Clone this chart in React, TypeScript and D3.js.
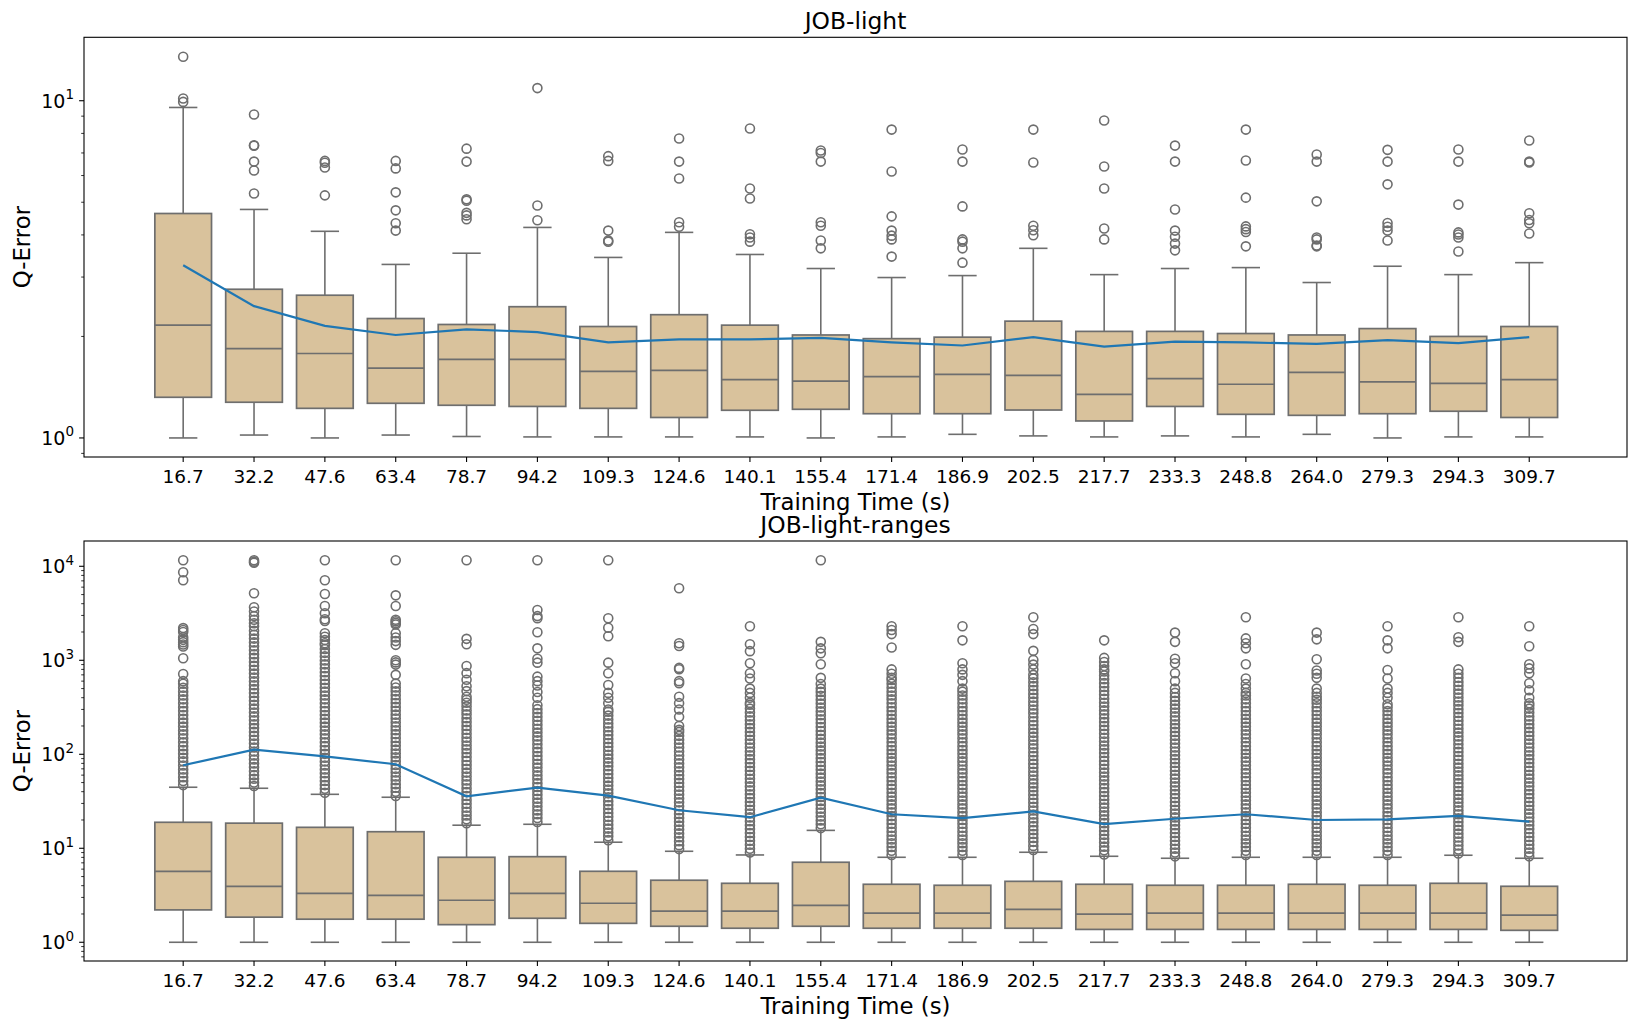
import * as d3 from "d3";

// training-time categories shared by both panels
const categories = [
  "16.7", "32.2", "47.6", "63.4", "78.7", "94.2", "109.3", "124.6", "140.1", "155.4",
  "171.4", "186.9", "202.5", "217.7", "233.3", "248.8", "264.0", "279.3", "294.3", "309.7",
];

// ---- JOB-light ----
const lightLow = [1.0, 1.02, 1.0, 1.02, 1.01, 1.007, 1.007, 1.007, 1.007, 1.0, 1.007, 1.025, 1.014, 1.007, 1.014, 1.007, 1.025, 1.0, 1.007, 1.007];
const lightQ1 = [1.32, 1.276, 1.224, 1.267, 1.25, 1.24, 1.224, 1.15, 1.208, 1.216, 1.18, 1.18, 1.21, 1.123, 1.24, 1.175, 1.167, 1.18, 1.2, 1.15];
const lightMedian = [2.16, 1.84, 1.78, 1.61, 1.71, 1.71, 1.576, 1.586, 1.49, 1.475, 1.52, 1.544, 1.533, 1.347, 1.5, 1.443, 1.565, 1.466, 1.452, 1.49];
const lightQ3 = [4.63, 2.76, 2.65, 2.26, 2.17, 2.45, 2.14, 2.32, 2.16, 2.02, 1.97, 1.99, 2.22, 2.07, 2.07, 2.04, 2.02, 2.11, 2.0, 2.14];
const lightHigh = [9.55, 4.76, 4.1, 3.27, 3.53, 4.21, 3.43, 4.07, 3.5, 3.18, 2.99, 3.03, 3.65, 3.05, 3.18, 3.2, 2.89, 3.23, 3.05, 3.31];
const lightMean = [3.25, 2.46, 2.15, 2.02, 2.1, 2.06, 1.92, 1.96, 1.96, 1.98, 1.92, 1.88, 1.99, 1.865, 1.93, 1.92, 1.9, 1.95, 1.91, 1.99];
const lightOutliers = [
  [9.92, 10.15, 13.5],
  [5.31, 6.21, 6.6, 7.35, 7.38, 9.1],
  [5.24, 6.34, 6.55, 6.63],
  [4.12, 4.33, 4.73, 5.35, 6.3, 6.63],
  [4.45, 4.57, 4.65, 5.05, 5.1, 6.6, 7.21],
  [4.42, 4.89, 10.9],
  [3.82, 3.85, 4.12, 6.63, 6.85],
  [4.23, 4.36, 5.88, 6.6, 7.73],
  [3.82, 3.93, 4.02, 5.13, 5.49, 8.27],
  [3.65, 3.85, 4.26, 4.36, 6.6, 7.0, 7.12],
  [3.45, 3.88, 3.98, 4.12, 4.54, 6.17, 8.21],
  [3.31, 3.65, 3.82, 3.88, 4.86, 6.6, 7.17],
  [3.99, 4.13, 4.26, 6.56, 8.21],
  [3.88, 4.18, 5.49, 6.38, 8.74],
  [3.6, 3.77, 3.95, 4.12, 4.76, 6.6, 7.36],
  [3.7, 4.08, 4.16, 4.24, 5.16, 6.65, 8.21],
  [3.7, 3.72, 3.88, 3.93, 5.03, 6.6, 6.93],
  [3.85, 4.12, 4.23, 4.34, 5.65, 6.6, 7.15],
  [3.57, 3.93, 4.01, 4.07, 4.92, 6.6, 7.17],
  [4.04, 4.33, 4.43, 4.64, 6.56, 6.6, 7.62],
];

// ---- JOB-light-ranges ----
const rangesLow = [1, 1, 1, 1, 1, 1, 1, 1, 1, 1, 1, 1, 1, 1, 1, 1, 1, 1, 1, 1];
const rangesQ1 = [2.21, 1.85, 1.76, 1.76, 1.54, 1.8, 1.59, 1.48, 1.41, 1.48, 1.41, 1.41, 1.41, 1.37, 1.37, 1.37, 1.37, 1.37, 1.37, 1.34];
const rangesMedian = [5.69, 3.94, 3.32, 3.16, 2.8, 3.32, 2.6, 2.14, 2.14, 2.47, 2.04, 2.04, 2.24, 1.99, 2.04, 2.04, 2.04, 2.04, 2.04, 1.94];
const rangesQ3 = [18.9, 18.5, 16.7, 15.0, 8.02, 8.14, 5.69, 4.57, 4.24, 7.1, 4.14, 4.04, 4.45, 4.14, 4.04, 4.04, 4.14, 4.04, 4.24, 3.94];
const rangesHigh = [44.6, 43.5, 37.5, 34.9, 17.6, 18.0, 11.6, 9.29, 8.49, 15.5, 8.02, 8.02, 9.07, 8.22, 7.83, 8.02, 8.02, 8.02, 8.43, 7.83];
const rangesMean = [76.4, 112, 95.2, 78.3, 35.7, 44.2, 36.3, 25.4, 21.4, 34.5, 23.0, 20.9, 24.7, 18.1, 20.6, 23.0, 20.0, 20.3, 22.1, 19.2];
const rangesOutliers = [
  [47, 52, 57, 63, 69, 76, 84, 92, 101, 111, 122, 134, 148, 163, 179, 197, 217, 238, 262, 288, 317, 349, 384, 422, 464, 511, 562, 600,
    715, 1050, 1400, 1470, 1560, 1650, 1760, 2000, 2100, 2200, 7100, 8630, 11600],
  [46, 50, 55, 60, 66, 73, 80, 88, 97, 107, 118, 130, 143, 157, 173, 190, 209, 230, 253, 278, 306, 337, 370, 407, 448, 493, 542, 596,
    656, 722, 794, 873, 960, 1060, 1160, 1280, 1410, 1550, 1700, 1870, 2060, 2300, 2480, 2700, 2950, 3300, 3660, 5160, 10900, 11200, 11600],
  [39, 43, 47, 52, 57, 63, 69, 76, 84, 92, 101, 111, 122, 134, 148, 163, 179, 197, 217, 238, 262, 288, 317, 349, 384, 422, 464, 511,
    562, 618, 680, 748, 823, 905, 996, 1100, 1200, 1320, 1450, 1520, 1640, 1780, 1940, 2620, 2730, 3160, 3780, 5070, 7100, 11600],
  [36, 40, 44, 48, 53, 58, 64, 70, 77, 85, 93, 102, 112, 123, 135, 149, 164, 180, 198, 218, 240, 264, 290, 319, 351, 386, 425, 467, 514, 565,
    700, 900, 950, 1000, 1460, 1600, 1750, 1940, 2400, 2500, 2600, 2700, 3780, 4910, 11600],
  [18.5, 20.3, 22.3, 24.5, 27, 29.7, 32.7, 36, 39.6, 43.5, 48, 52.7, 58, 63.8, 70, 77, 85, 93.5, 103, 113, 124, 137, 150, 165, 182, 200,
    220, 242, 266, 293, 322, 354, 380, 410, 470, 530, 620, 730, 870, 1480, 1690, 11600],
  [19, 21, 23, 25.3, 27.8, 30.6, 33.7, 37, 40.7, 44.8, 49.3, 54.2, 59.6, 65.6, 72.2, 79.4, 87.3, 96, 106, 116, 128, 141, 155, 170, 187,
    206, 227, 250, 275, 302, 332, 400, 460, 540, 600, 670, 944, 1040, 1340, 1990, 2800, 2950, 3430, 11600],
  [12.2, 13.4, 14.7, 16.2, 17.8, 19.6, 21.6, 23.8, 26.2, 28.8, 31.7, 34.9, 38.4, 42.2, 46.4, 51, 56, 61.6, 67.8, 74.6, 82, 90, 99, 109,
    120, 132, 145, 160, 176, 194, 213, 234, 258, 284, 300, 349, 400, 450, 546, 728, 944, 1800, 2220, 2800, 11600],
  [9.8, 10.8, 11.9, 13.1, 14.4, 15.8, 17.4, 19.1, 21, 23.1, 25.4, 28, 30.8, 33.9, 37.3, 41, 45.1, 49.6, 54.6, 60, 66, 72.6, 80, 88, 97,
    107, 118, 130, 143, 157, 173, 182, 200, 250, 300, 350, 410, 569, 600, 802, 830, 1420, 1520, 5830],
  [9, 9.9, 10.9, 12, 13.2, 14.5, 16, 17.6, 19.4, 21.3, 23.4, 25.7, 28.3, 31.1, 34.2, 37.6, 41.4, 45.5, 50, 55, 60.5, 66.6, 73.3, 80.6,
    88.7, 97.6, 107, 118, 130, 143, 157, 173, 190, 209, 230, 253, 278, 306, 337, 352, 400, 450, 500, 640, 728, 929, 1250, 1480, 2300],
  [16.4, 18, 19.8, 21.8, 24, 26.4, 29, 31.9, 35.1, 38.6, 42.5, 46.7, 51.4, 56.5, 62.2, 68.4, 75.2, 82.7, 91, 100, 110, 121, 133, 146,
    161, 177, 195, 215, 236, 260, 286, 315, 346, 381, 419, 461, 500, 560, 650, 906, 1190, 1340, 1570, 11600],
  [8.5, 9.4, 10.3, 11.3, 12.4, 13.6, 15, 16.5, 18.2, 20, 22, 24.2, 26.6, 29.3, 32.2, 35.4, 39, 43, 47, 52, 57, 63, 69, 76, 84, 92, 101,
    111, 122, 134, 148, 163, 179, 197, 217, 238, 262, 288, 317, 349, 384, 422, 464, 511, 562, 618, 650, 720, 800, 1370, 1900, 2100, 2300],
  [8.5, 9.4, 10.3, 11.3, 12.4, 13.6, 15, 16.5, 18.2, 20, 22, 24.2, 26.6, 29.3, 32.2, 35.4, 39, 43, 47, 52, 57, 63, 69, 76, 84, 92, 101,
    111, 122, 134, 148, 163, 179, 197, 217, 238, 262, 288, 317, 349, 384, 422, 464, 500, 600, 700, 800, 929, 1630, 2300],
  [9.6, 10.6, 11.7, 12.9, 14.2, 15.6, 17.2, 18.9, 20.8, 22.9, 25.2, 27.7, 30.5, 33.5, 36.9, 40.6, 44.6, 49, 54, 59.4, 65.3, 71.8, 79,
    87, 95.7, 105, 116, 127, 140, 154, 169, 186, 205, 225, 248, 273, 300, 330, 363, 399, 439, 483, 531, 584, 642, 700,
    800, 900, 1010, 1260, 1900, 2150, 2870],
  [8.6, 9.5, 10.4, 11.5, 12.6, 13.9, 15.3, 16.8, 18.5, 20.3, 22.4, 24.6, 27.1, 29.8, 32.8, 36, 39.6, 43.6, 48, 52.8, 58, 63.8, 70.2,
    77.2, 85, 93.5, 103, 113, 124, 137, 150, 165, 182, 200, 220, 242, 266, 293, 322, 354, 390, 429, 472, 519, 571, 628, 690, 760, 800,
    870, 960, 1060, 1630],
  [8.2, 9, 9.9, 10.9, 12, 13.2, 14.5, 16, 17.6, 19.3, 21.3, 23.4, 25.7, 28.3, 31.1, 34.2, 37.7, 41.4, 45.6, 50.1, 55.1, 60.6, 66.7,
    73.4, 80.7, 88.8, 97.6, 107, 118, 130, 143, 157, 173, 190, 209, 230, 253, 278, 306, 337, 370, 407, 450, 500, 600, 728, 929, 1040, 1570, 1970],
  [8.5, 9.4, 10.3, 11.3, 12.4, 13.6, 15, 16.5, 18.2, 20, 22, 24.2, 26.6, 29.3, 32.2, 35.4, 39, 43, 47, 52, 57, 63, 69, 76, 84, 92, 101,
    111, 122, 134, 148, 163, 179, 197, 217, 238, 262, 288, 317, 349, 384, 422, 450, 500, 560, 640, 906, 1340, 1520, 1710, 2870],
  [8.5, 9.4, 10.3, 11.3, 12.4, 13.6, 15, 16.5, 18.2, 20, 22, 24.2, 26.6, 29.3, 32.2, 35.4, 39, 43, 47, 52, 57, 63, 69, 76, 84, 92, 101,
    111, 122, 134, 148, 163, 179, 197, 217, 238, 262, 288, 317, 349, 380, 410, 450, 500, 650, 720, 780, 1025, 1670, 1970],
  [8.5, 9.4, 10.3, 11.3, 12.4, 13.6, 15, 16.5, 18.2, 20, 22, 24.2, 26.6, 29.3, 32.2, 35.4, 39, 43, 47, 52, 57, 63, 69, 76, 84, 92, 101,
    111, 122, 134, 148, 163, 179, 197, 217, 238, 262, 288, 317, 340, 400, 450, 500, 640, 789, 1340, 1630, 2300],
  [8.8, 9.7, 10.7, 11.8, 13, 14.3, 15.7, 17.3, 19, 20.9, 23, 25.3, 27.8, 30.6, 33.7, 37, 40.7, 44.8, 49.3, 54.2, 59.6, 65.6, 72.2,
    79.4, 87.3, 96, 106, 116, 128, 141, 155, 170, 187, 206, 227, 250, 275, 302, 332, 365, 402, 442, 486, 535, 588, 650, 720, 800, 1570, 1760, 2870],
  [8.2, 9, 9.9, 10.9, 12, 13.2, 14.5, 16, 17.6, 19.3, 21.3, 23.4, 25.7, 28.3, 31.1, 34.2, 37.7, 41.4, 45.6, 50.1, 55.1, 60.6, 66.7,
    73.4, 80.7, 88.8, 97.6, 107, 118, 130, 143, 157, 173, 190, 209, 230, 253, 278, 306, 330, 349, 400, 480, 570, 728, 820, 906, 1410, 2300],
];

const FONT = "DejaVu Sans, Verdana, sans-serif";
const GRAY = "#6e6e6e";
const FILL = "#d9c29c";
const BLUE = "#1f77b4";
const LEFT = 84;
const RIGHT = 1627;

type PanelProps = {
  title: string;
  top: number;
  bottom: number;
  yDomain: [number, number];
  low: number[];
  q1: number[];
  median: number[];
  q3: number[];
  high: number[];
  mean: number[];
  outliers: number[][];
};

function Panel(p: PanelProps) {
  const x = d3.scaleLinear().domain([-1.4, 20.38]).range([LEFT, RIGHT]);
  const y = d3.scaleLog().domain(p.yDomain).range([p.bottom, p.top]);
  const bw = x(0.8) - x(0);
  const cap = bw / 2;
  const isMajor = (v: number) => Math.abs(Math.log10(v) - Math.round(Math.log10(v))) < 1e-6;
  const ticks = y.ticks();
  const major = ticks.filter(isMajor);
  const minor = ticks.filter((v) => !isMajor(v));
  const meanLine = d3
    .line<number>()
    .x((_, i) => x(i))
    .y((v) => y(v))(p.mean) as string;
  const midX = (LEFT + RIGHT) / 2;

  return (
    <g>
      <text x={midX} y={p.top - 8.5} textAnchor="middle" fontSize={23.4} fontFamily={FONT}>
        {p.title}
      </text>

      {categories.map((c, i) => {
        const cx = x(i);
        return (
          <g key={c}>
            <line x1={cx} x2={cx} y1={y(p.low[i])} y2={y(p.q1[i])} stroke={GRAY} strokeWidth={1.6} />
            <line x1={cx} x2={cx} y1={y(p.q3[i])} y2={y(p.high[i])} stroke={GRAY} strokeWidth={1.6} />
            <line x1={cx - cap / 2} x2={cx + cap / 2} y1={y(p.low[i])} y2={y(p.low[i])} stroke={GRAY} strokeWidth={1.6} />
            <line x1={cx - cap / 2} x2={cx + cap / 2} y1={y(p.high[i])} y2={y(p.high[i])} stroke={GRAY} strokeWidth={1.6} />
            <rect
              x={cx - bw / 2}
              y={y(p.q3[i])}
              width={bw}
              height={y(p.q1[i]) - y(p.q3[i])}
              fill={FILL}
              stroke={GRAY}
              strokeWidth={1.7}
            />
            <line x1={cx - bw / 2} x2={cx + bw / 2} y1={y(p.median[i])} y2={y(p.median[i])} stroke={GRAY} strokeWidth={1.7} />
            {p.outliers[i].map((v, k) => (
              <circle key={k} cx={cx} cy={y(v)} r={4.5} fill="none" stroke={GRAY} strokeWidth={1.6} />
            ))}
          </g>
        );
      })}

      <path d={meanLine} fill="none" stroke={BLUE} strokeWidth={2.2} />

      {/* x axis ticks */}
      {categories.map((c, i) => (
        <g key={"xt" + c}>
          <line x1={x(i)} x2={x(i)} y1={p.bottom} y2={p.bottom + 4.9} stroke="#000" strokeWidth={1.1} />
          <text x={x(i)} y={p.bottom + 25.7} textAnchor="middle" fontSize={18.5} fontFamily={FONT}>
            {c}
          </text>
        </g>
      ))}
      <text x={midX} y={p.bottom + 53} textAnchor="middle" fontSize={22.8} fontFamily={FONT}>
        Training Time (s)
      </text>

      {/* y axis ticks */}
      {minor.map((v) => (
        <line key={"mn" + v} x1={LEFT - 2.8} x2={LEFT} y1={y(v)} y2={y(v)} stroke="#000" strokeWidth={0.8} />
      ))}
      {major.map((v) => (
        <g key={"mj" + v}>
          <line x1={LEFT - 4.9} x2={LEFT} y1={y(v)} y2={y(v)} stroke="#000" strokeWidth={1.1} />
          <text x={LEFT - 10} y={y(v) + 6.8} textAnchor="end" fontSize={19} fontFamily={FONT}>
            10
            <tspan fontSize={13.5} dy={-8.5}>
              {String(Math.round(Math.log10(v)))}
            </tspan>
          </text>
        </g>
      ))}
      <text
        transform={`translate(30, ${(p.top + p.bottom) / 2}) rotate(-90)`}
        textAnchor="middle"
        fontSize={22.8}
        fontFamily={FONT}
      >
        Q-Error
      </text>

      <rect x={LEFT} y={p.top} width={RIGHT - LEFT} height={p.bottom - p.top} fill="none" stroke="#000" strokeWidth={1.1} />
    </g>
  );
}

export default function App() {
  return (
    <svg
      width={1644}
      height={1029}
      style={{ position: "absolute", left: 0, top: 0, background: "#fff" }}
    >
      <rect width={1644} height={1029} fill="#fff" />
      <Panel
        title="JOB-light"
        top={37.3}
        bottom={457}
        yDomain={[0.878, 15.42]}
        low={lightLow}
        q1={lightQ1}
        median={lightMedian}
        q3={lightQ3}
        high={lightHigh}
        mean={lightMean}
        outliers={lightOutliers}
      />
      <Panel
        title="JOB-light-ranges"
        top={541}
        bottom={961}
        yDomain={[0.632, 18580]}
        low={rangesLow}
        q1={rangesQ1}
        median={rangesMedian}
        q3={rangesQ3}
        high={rangesHigh}
        mean={rangesMean}
        outliers={rangesOutliers}
      />
    </svg>
  );
}
